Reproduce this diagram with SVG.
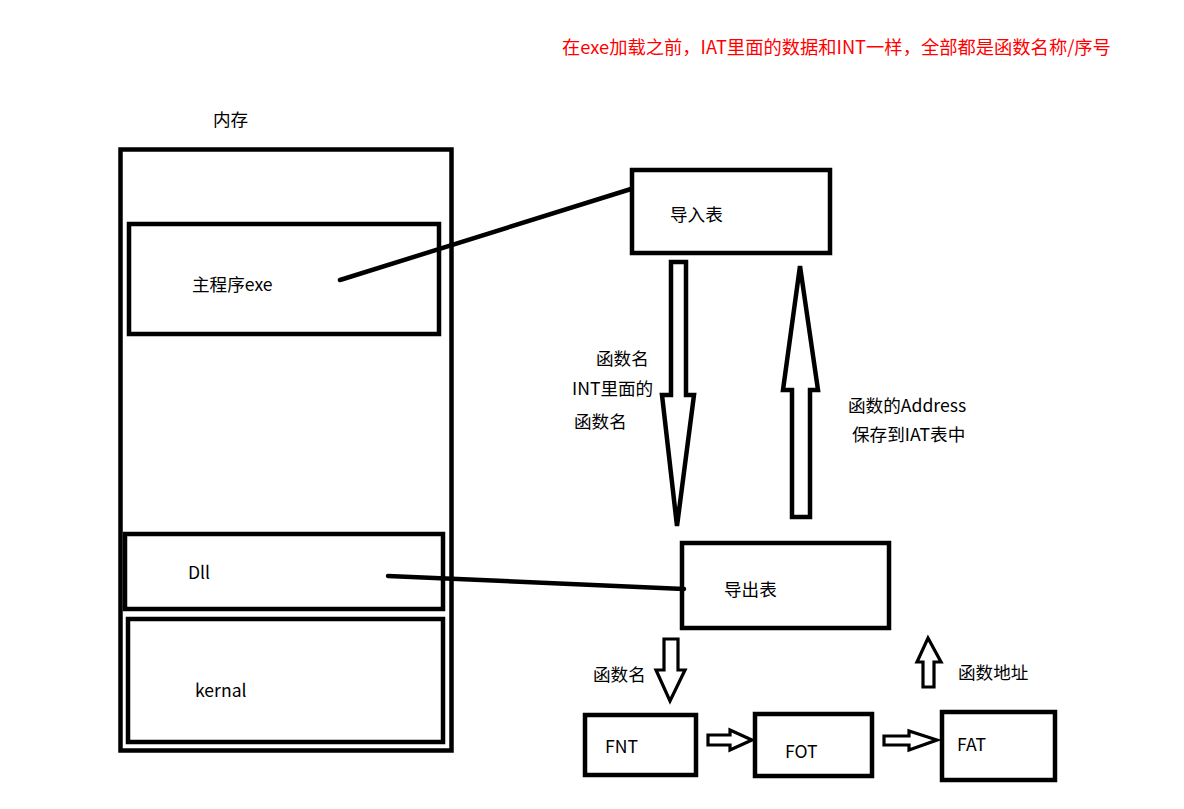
<svg xmlns="http://www.w3.org/2000/svg" width="1184" height="809" viewBox="0 0 1184 809">
<style>
.box{fill:none;stroke:#000;stroke-width:4.5}
.t{font-family:"Microsoft YaHei","Noto Sans CJK SC",sans-serif;font-size:17.6px;fill:#000;dominant-baseline:central}
.red{font-family:"Microsoft YaHei","Noto Sans CJK SC",sans-serif;font-size:18.3px;fill:#ff0000;dominant-baseline:central}
.ln{fill:none;stroke:#000;stroke-width:4.5;stroke-linecap:round}
.ar{fill:#fff;stroke:#000;stroke-width:4.5;stroke-linejoin:miter}
.ar3{fill:#fff;stroke:#000;stroke-width:3.2;stroke-linejoin:miter}
</style>
<rect width="1184" height="809" fill="#fff"/>
<text class="red" x="562" y="46">在exe加载之前，IAT里面的数据和INT一样，全部都是函数名称/序号</text>

<g id="memory">
<rect class="box" x="120.5" y="149.5" width="331" height="601"/>
<text class="t" x="213" y="118">内存</text>
</g>
<g id="exe">
<rect class="box" x="129" y="224" width="310" height="110"/>
<text class="t" x="192" y="283">主程序exe</text>
</g>
<g id="dll">
<rect class="box" x="125" y="534" width="318" height="75"/>
<text class="t" x="188" y="571">Dll</text>
</g>
<g id="kernal">
<rect class="box" x="128" y="619" width="315" height="123"/>
<text class="t" x="195" y="689">kernal</text>
</g>
<g id="import">
<rect class="box" x="632" y="170" width="198" height="83"/>
<text class="t" x="670" y="213">导入表</text>
</g>
<g id="export">
<rect class="box" x="682" y="543" width="207" height="85"/>
<text class="t" x="724" y="588">导出表</text>
</g>
<g id="fnt">
<rect class="box" x="585" y="715" width="111" height="60"/>
<text class="t" x="605" y="745">FNT</text>
</g>
<g id="fot">
<rect class="box" x="755" y="714" width="117" height="62"/>
<text class="t" x="785" y="750">FOT</text>
</g>
<g id="fat">
<rect class="box" x="942" y="712" width="113" height="68"/>
<text class="t" x="957" y="743">FAT</text>
</g>

<g id="connectors">
<line class="ln" x1="340" y1="280" x2="631" y2="189"/>
<line class="ln" x1="388" y1="576" x2="684" y2="589"/>
<polygon class="ar" points="671,262 686,262 686,395 694,395 677,526 662,395 671,395"/>
<polygon class="ar" points="800,266 818,390 810,390 810,517 792,517 792,390 783,390"/>
<polygon class="ar3" points="664,639 678,639 678,670 685,670 670,701 656,670 664,670"/>
<polygon class="ar3" points="928,638 941,662 934,662 934,687 923,687 923,662 917,662"/>
<polygon class="ar3" points="708,735 730,735 730,730 752,740 730,750 730,745 708,745"/>
<polygon class="ar3" points="884,736 909,736 909,731 937,740 909,750 909,745 884,745"/>
</g>

<g id="labels">
<text class="t" x="596" y="357">函数名</text>
<text class="t" x="572" y="387">INT里面的</text>
<text class="t" x="574" y="420">函数名</text>
<text class="t" x="848" y="404">函数的Address</text>
<text class="t" x="852" y="433">保存到IAT表中</text>
<text class="t" x="593" y="673">函数名</text>
<text class="t" x="958" y="671">函数地址</text>
</g>
</svg>
